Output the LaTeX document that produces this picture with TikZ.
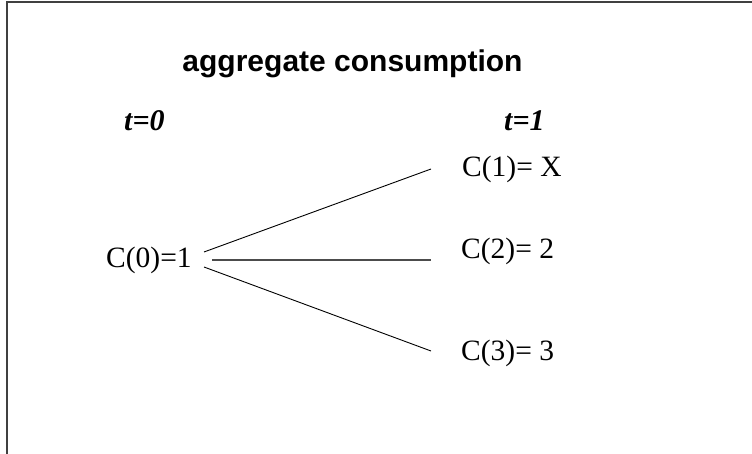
\documentclass[tikz,border=0pt]{standalone}
\usepackage{fontspec}
\setmainfont{Liberation Serif}
\newfontfamily\arialfont{Liberation Sans}
\begin{document}
\begin{tikzpicture}[x=1pt,y=-1pt,
  frameline/.style={draw=black!75,line width=1.5pt},
  branch/.style={draw=black,line width=0.9pt},
  titletext/.style={inner sep=0pt,anchor=base,font=\arialfont\bfseries\fontsize{30}{36}\selectfont},
  timetext/.style={inner sep=0pt,anchor=base west,font=\bfseries\itshape\fontsize{30}{36}\selectfont},
  valtext/.style={inner sep=0pt,anchor=base west,font=\fontsize{29.5}{35}\selectfont}]
\useasboundingbox (0,0) rectangle (752,454);
\draw[frameline] (752,2) -- (7,2) -- (7,454);
\node[titletext] (title) at (352.5,72) {aggregate consumption};
\node[timetext] (t0) at (124,131) {t=0};
\node[timetext] (t1) at (504,131) {t=1};
\node[valtext] (c0) at (106,268) {C(0)=1};
\node[valtext] (c1) at (462,177) {C(1)= X};
\node[valtext] (c2) at (461,259) {C(2)= 2};
\node[valtext] (c3) at (461,360) {C(3)= 3};
\coordinate (s1) at (204,252);
\coordinate (s2) at (212,260);
\coordinate (s3) at (204,267);
\coordinate (e1) at (431,169);
\coordinate (e2) at (431,260);
\coordinate (e3) at (431,351);
\draw[branch] (s1) -- (e1);
\draw[branch,draw=black!70,line width=1.1pt] (s2) -- (e2);
\draw[branch] (s3) -- (e3);
\end{tikzpicture}
\end{document}
